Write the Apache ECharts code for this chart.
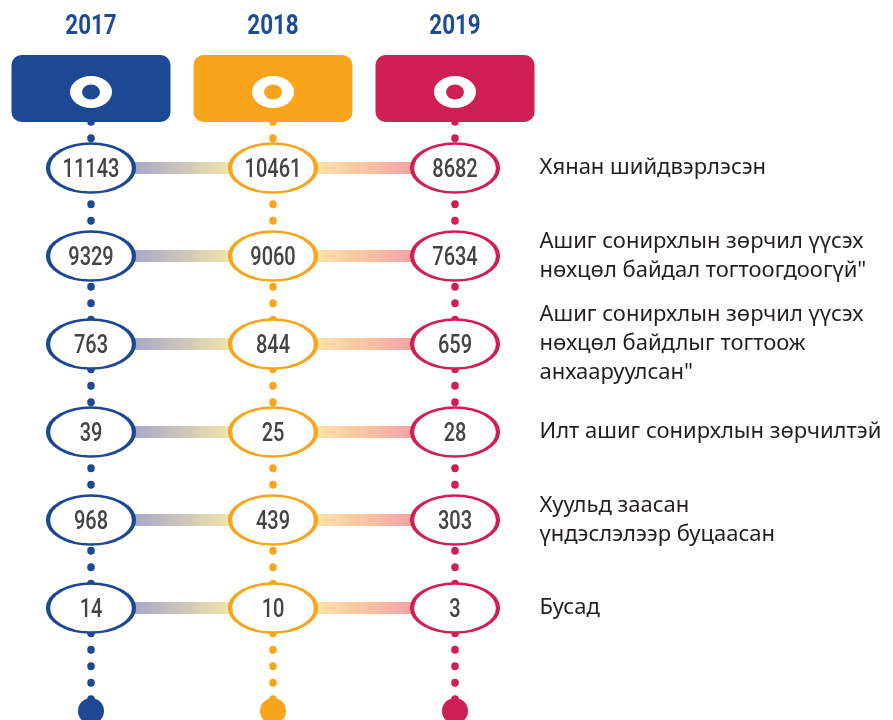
<!DOCTYPE html>
<html>
<head>
<meta charset="utf-8">
<script src="https://cdn.jsdelivr.net/npm/echarts@6/dist/echarts.min.js"></script>
<style>
  html, body { margin: 0; padding: 0; background: #fff; }
  #chart { width: 893px; height: 720px; }
</style>
</head>
<body>
<div id="chart"></div>
<script>
const years = ["2017", "2018", "2019"];
const yearColors = ["#1d4893", "#f9a51b", "#d01f55"];
const rowLabels = [
  "Хянан шийдвэрлэсэн",
  "Ашиг сонирхлын зөрчил үүсэх\nнөхцөл байдал тогтоогдоогүй\"",
  "Ашиг сонирхлын зөрчил үүсэх\nнөхцөл байдлыг тогтоож\nанхааруулсан\"",
  "Илт ашиг сонирхлын зөрчилтэй",
  "Хуульд заасан\nүндэслэлээр буцаасан",
  "Бусад"
];
const values2017 = [11143, 9329, 763, 39, 968, 14];
const values2018 = [10461, 9060, 844, 25, 439, 10];
const values2019 = [8682, 7634, 659, 28, 303, 3];
const valuesByYear = [values2017, values2018, values2019];

// rows sit at y = 1..6 (88px apart), header and year above, end dot below
const unit = 88;
const yMin = 1 - 168 / unit;
const yMax = yMin + 720 / unit;
const yearY = -0.6;
const headerY = 0.097;
const ringY = 0.136;
const endY = 7.17;
const numFont = "Roboto, 'Liberation Sans', sans-serif";

let myChart = echarts.init(document.getElementById("chart"));

let series = [];

// dotted vertical lines
years.forEach((y, i) => {
  series.push({
    type: "line",
    z: 1,
    symbol: "none",
    silent: true,
    data: [[y, headerY], [y, endY]],
    lineStyle: { color: yearColors[i], width: 7.5, type: [0.5, 16], cap: "round", opacity: 1 }
  });
});

// gradient connectors for each row
rowLabels.forEach((lbl, r) => {
  series.push({
    type: "line",
    z: 2,
    symbol: "none",
    silent: true,
    data: years.map(y => [y, r + 1]),
    lineStyle: {
      width: 12,
      opacity: 1,
      color: {
        type: "linear", x: 0, y: 0, x2: 1, y2: 0,
        colorStops: [
          { offset: 0, color: "#8c96c4" },
          { offset: 0.118, color: "#a0a7cb" },
          { offset: 0.38, color: "#f3e2ac" },
          { offset: 0.62, color: "#fde1a4" },
          { offset: 0.88, color: "#f4a2a6" },
          { offset: 1, color: "#f08f98" }
        ]
      }
    }
  });
});

// header boxes
series.push({
  type: "custom",
  z: 3,
  silent: true,
  data: years.map((y, i) => [y, headerY, i]),
  renderItem: (params, api) => {
    const p = api.coord([api.value(0), api.value(1)]);
    return {
      type: "rect",
      shape: { x: p[0] - 79.5, y: p[1] - 33.5, width: 159, height: 67, r: 10 },
      style: { fill: yearColors[api.value(2)] }
    };
  }
});
series.push({
  type: "scatter",
  z: 4,
  silent: true,
  symbol: "circle",
  symbolSize: [42, 32],
  itemStyle: { color: "#fff", opacity: 1 },
  data: years.map(y => [y, ringY])
});
series.push({
  type: "scatter",
  z: 5,
  silent: true,
  symbol: "circle",
  symbolSize: [18, 15],
  data: years.map((y, i) => ({ value: [y, ringY], itemStyle: { color: yearColors[i], opacity: 1 } }))
});

// year titles
series.push({
  type: "custom",
  z: 5,
  silent: true,
  data: years.map(y => [y, yearY]),
  renderItem: (params, api) => {
    const p = api.coord([api.value(0), api.value(1)]);
    return {
      type: "text",
      x: p[0],
      y: p[1],
      scaleX: 0.8,
      style: {
        text: years[params.dataIndex],
        fill: "#1e4b96",
        font: "bold 28px " + numFont,
        align: "center",
        verticalAlign: "middle"
      }
    };
  }
});

// end dots
series.push({
  type: "scatter",
  z: 3,
  silent: true,
  symbol: "circle",
  symbolSize: 26,
  data: years.map((y, i) => ({ value: [y, endY], itemStyle: { color: yearColors[i], opacity: 1 } }))
});

// value ellipses
years.forEach((y, i) => {
  series.push({
    type: "scatter",
    z: 6,
    silent: true,
    symbol: "circle",
    symbolSize: [86, 49],
    itemStyle: { color: "#fff", borderColor: yearColors[i], borderWidth: 3.2, opacity: 1 },
    data: valuesByYear[i].map((v, r) => [y, r + 1])
  });
  series.push({
    type: "custom",
    z: 7,
    silent: true,
    data: valuesByYear[i].map((v, r) => [y, r + 1, v]),
    renderItem: (params, api) => {
      const p = api.coord([api.value(0), api.value(1)]);
      return {
        type: "text",
        x: p[0],
        y: p[1] + 3,
        scaleX: 0.8,
        style: {
          text: String(api.value(2)),
          fill: "#444",
          font: "500 25px " + numFont,
          align: "center",
          verticalAlign: "middle"
        }
      };
    }
  });
});

// row descriptions on the right
series.push({
  type: "scatter",
  z: 6,
  silent: true,
  symbolSize: 1,
  itemStyle: { color: "rgba(0,0,0,0)", opacity: 1 },
  label: {
    show: true,
    position: "right",
    distance: 84,
    align: "left",
    color: "#231f20",
    fontSize: 22,
    lineHeight: 29,
    fontFamily: "'Noto Sans', sans-serif",
    formatter: p => rowLabels[p.dataIndex]
  },
  data: rowLabels.map((l, r) => [years[2], r + 1])
});

let option = {
  animation: false,
  grid: { left: 0, width: 546, top: 0, bottom: 0 },
  xAxis: {
    type: "category",
    data: years,
    show: false
  },
  yAxis: {
    type: "value",
    inverse: true,
    min: yMin,
    max: yMax,
    show: false
  },
  series: series
};
myChart.setOption(option);
window.addEventListener("resize", function() {
  myChart.resize();
});
</script>
</body>
</html>
